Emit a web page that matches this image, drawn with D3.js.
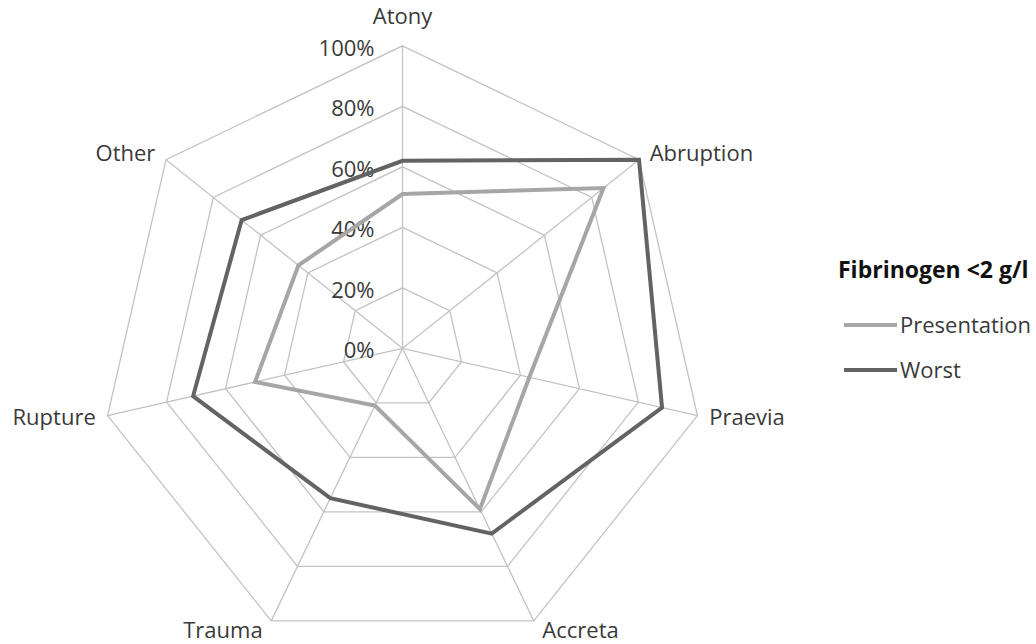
<!DOCTYPE html>
<html>
<head>
<meta charset="utf-8">
<script src="https://cdn.jsdelivr.net/npm/d3@7"></script>
<style>
  html, body { margin: 0; padding: 0; background: #ffffff; }
  svg { display: block; }
  text { font-family: "Open Sans", "DejaVu Sans", sans-serif; fill: #3a3a3a; }
</style>
</head>
<body>
<svg id="chart" width="1036" height="644"></svg>
<script>
// Causes of haemorrhage (spokes, clockwise from the top)
const categories = ["Atony", "Abruption", "Praevia", "Accreta", "Trauma", "Rupture", "Other"];

// Share of cases with fibrinogen < 2 g/l
const presentation = [0.51, 0.85, 0.43, 0.59, 0.21, 0.50, 0.44];
const worst        = [0.62, 1.00, 0.88, 0.68, 0.55, 0.71, 0.68];

const seriesNames = ["Presentation", "Worst"];
const tickValues = [0, 0.2, 0.4, 0.6, 0.8, 1.0];
const legendTitle = "Fibrinogen <2 g/l";

const svg = d3.select("#chart");
const cx = 402.5, cy = 348.3, R = 302.5;
const colors = { Presentation: "#a6a6a6", Worst: "#636363" };
const gridColor = "#c3c3c3";

const r = d3.scaleLinear().domain([0, 1]).range([0, R]);
const angle = d3.scaleLinear().domain([0, categories.length]).range([0, 2 * Math.PI]);

const g = svg.append("g").attr("transform", `translate(${cx},${cy})`);

// Point on spoke i at value v (angle measured clockwise from 12 o'clock)
const pt = (i, v) => [Math.sin(angle(i)) * r(v), -Math.cos(angle(i)) * r(v)];

// Concentric heptagon gridlines
const ring = d3.lineRadial()
  .angle((d, i) => angle(i))
  .radius(d => r(d))
  .curve(d3.curveLinearClosed);

g.append("g").selectAll("path")
  .data(tickValues.filter(t => t > 0))
  .join("path")
  .attr("d", t => ring(categories.map(() => t)))
  .attr("fill", "none")
  .attr("stroke", gridColor)
  .attr("stroke-width", 1.3);

// Spokes
g.append("g").selectAll("line")
  .data(categories)
  .join("line")
  .attr("x1", 0).attr("y1", 0)
  .attr("x2", (d, i) => pt(i, 1)[0])
  .attr("y2", (d, i) => pt(i, 1)[1])
  .attr("stroke", gridColor)
  .attr("stroke-width", 1.3);

// Tick labels along the top spoke
g.append("g").selectAll("text")
  .data(tickValues)
  .join("text")
  .attr("x", -28)
  .attr("y", t => -r(t) + 10)
  .attr("text-anchor", "end")
  .attr("font-size", 22)
  .text(d3.format(".0%"));

// Category labels around the outer ring
g.append("g").selectAll("text")
  .data(categories)
  .join("text")
  .attr("font-size", 22)
  .each(function (d, i) {
    const [vx, vy] = pt(i, 1);
    const s = Math.sin(angle(i)), c = Math.cos(angle(i));
    const el = d3.select(this);
    if (Math.abs(s) < 0.01) {
      el.attr("x", vx).attr("y", vy - 22).attr("text-anchor", "middle");
    } else {
      const gap = 6 + 6 * Math.abs(s);
      el.attr("x", vx + Math.sign(s) * gap)
        .attr("y", vy + 7.5 - c * 10.5)
        .attr("text-anchor", s > 0 ? "start" : "end");
    }
  })
  .text(d => d);

// Data series
const seriesLine = d3.lineRadial()
  .angle((d, i) => angle(i))
  .radius(d => r(d))
  .curve(d3.curveLinearClosed);

const seriesData = [
  { name: "Presentation", values: presentation },
  { name: "Worst", values: worst }
];

g.append("g").selectAll("path")
  .data(seriesData)
  .join("path")
  .attr("d", d => seriesLine(d.values))
  .attr("fill", "none")
  .attr("stroke", d => colors[d.name])
  .attr("stroke-width", 4)
  .attr("stroke-linejoin", "miter");

// Legend
const legend = svg.append("g").attr("transform", "translate(838,0)");
legend.append("text")
  .attr("x", 0).attr("y", 278)
  .attr("font-size", 23)
  .attr("font-weight", "bold")
  .style("fill", "#111")
  .text(legendTitle);

const items = legend.selectAll("g.item")
  .data(seriesNames)
  .join("g")
  .attr("class", "item")
  .attr("transform", (d, i) => `translate(0,${325 + i * 45})`);

items.append("line")
  .attr("x1", 6).attr("x2", 59)
  .attr("y1", 0).attr("y2", 0)
  .attr("stroke", d => colors[d])
  .attr("stroke-width", 4);

items.append("text")
  .attr("x", 62).attr("y", 8)
  .attr("font-size", 22)
  .text(d => d);
</script>
</body>
</html>
